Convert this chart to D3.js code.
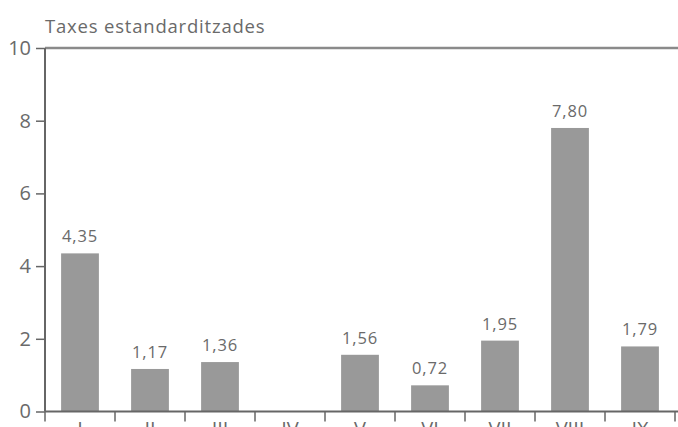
<!DOCTYPE html>
<html>
<head>
<meta charset="utf-8">
<script src="https://cdn.jsdelivr.net/npm/d3@7"></script>
<style>
  body { margin: 0; background: #fff; }
  text { font-family: "Open Sans", "Noto Sans", sans-serif; }
</style>
</head>
<body>
<div class="chart_area"></div>
<script>
// data
var categories = ["I", "II", "III", "IV", "V", "VI", "VII", "VIII", "IX"];
var values = [4.35, 1.17, 1.36, null, 1.56, 0.72, 1.95, 7.80, 1.79];
var valueLabels = ["4,35", "1,17", "1,36", "", "1,56", "0,72", "1,95", "7,80", "1,79"];
var yTicks = [0, 2, 4, 6, 8, 10];
var title = "Taxes estandarditzades";

var W = 678, H = 427;
var margin = { top: 48, right: 3, bottom: 15.5, left: 45 },
    width = 630,
    height = H - margin.top - margin.bottom;

var axisColor = "#666", textColor = "#6a6a6a", barColor = "#999999";

var svg = d3.select(".chart_area")
    .append("svg")
    .attr("width", W)
    .attr("height", H)
    .append("g")
    .attr("transform", "translate(" + margin.left + "," + margin.top + ")");

var y = d3.scaleLinear()
    .domain([0, 10])
    .range([height, 0]);

// outer bands for the tick boundaries, inner bands for the bars
var x_cat = d3.scaleBand()
    .domain(categories)
    .range([0, width])
    .padding(0);

var x_bar = d3.scaleBand()
    .domain(categories)
    .range([0, width])
    .paddingInner(0.46)
    .paddingOuter(0.23);

var rows = categories.map(function (c, i) { return { cat: c, v: values[i], lab: valueLabels[i] }; })
    .filter(function (d) { return d.v != null; });

// title
svg.append("text")
    .attr("x", 0)
    .attr("y", -15)
    .style("fill", textColor)
    .style("font-size", "18.5px")
    .style("letter-spacing", "0.8px")
    .text(title);

// top frame line
svg.append("line")
    .attr("x1", 0)
    .attr("x2", W - margin.left)
    .attr("y1", 0)
    .attr("y2", 0)
    .style("stroke", "#8a8a8a")
    .style("stroke-width", 2.5);

// bars
svg.selectAll(".bar_rect")
    .data(rows)
    .enter()
    .append("rect")
    .attr("class", "bar_rect")
    .attr("x", function (d) { return x_bar(d.cat); })
    .attr("y", function (d) { return y(d.v); })
    .attr("width", x_bar.bandwidth())
    .attr("height", function (d) { return y(0) - y(d.v); })
    .attr("fill", barColor);

svg.selectAll(".bar_label")
    .data(rows)
    .enter()
    .append("text")
    .attr("class", "bar_label")
    .attr("x", function (d) { return x_bar(d.cat) + x_bar.bandwidth() / 2; })
    .attr("y", function (d) { return y(d.v) - 11; })
    .style("text-anchor", "middle")
    .style("fill", textColor)
    .style("font-size", "16.5px")
    .style("letter-spacing", "0.9px")
    .text(function (d) { return d.lab; });

// y axis
var y_axis = svg.append("g")
    .attr("class", "y-axis")
    .call(d3.axisLeft(y).tickValues(yTicks).tickSize(9).tickPadding(5).tickFormat(d3.format("d")));

y_axis.selectAll("text")
    .style("fill", textColor)
    .style("font-size", "20px");

y_axis.selectAll("line")
    .style("stroke", axisColor)
    .style("stroke-width", 1.5);

y_axis.select(".domain")
    .attr("d", "M0," + height + "V0")
    .style("stroke", axisColor)
    .style("stroke-width", 2);

// x axis
var x_axis = svg.append("g")
    .attr("class", "x-axis")
    .attr("transform", "translate(0," + height + ")")
    .call(d3.axisBottom(x_cat).tickSize(0).tickPadding(10));

x_axis.selectAll("text")
    .style("fill", textColor)
    .style("font-size", "20px");

x_axis.select(".domain")
    .attr("d", "M0,0H" + (W - margin.left))
    .style("stroke", axisColor)
    .style("stroke-width", 2);

// boundary ticks between categories
x_axis.selectAll(".bound_tick")
    .data(categories)
    .enter()
    .append("line")
    .attr("class", "bound_tick")
    .attr("x1", function (d) { return x_cat(d) + x_cat.step(); })
    .attr("x2", function (d) { return x_cat(d) + x_cat.step(); })
    .attr("y1", 0)
    .attr("y2", 10)
    .style("stroke", axisColor)
    .style("stroke-width", 1.5);

x_axis.append("line")
    .attr("x1", 0)
    .attr("x2", 0)
    .attr("y1", 0)
    .attr("y2", 10)
    .style("stroke", axisColor)
    .style("stroke-width", 1.5);
</script>
</body>
</html>
